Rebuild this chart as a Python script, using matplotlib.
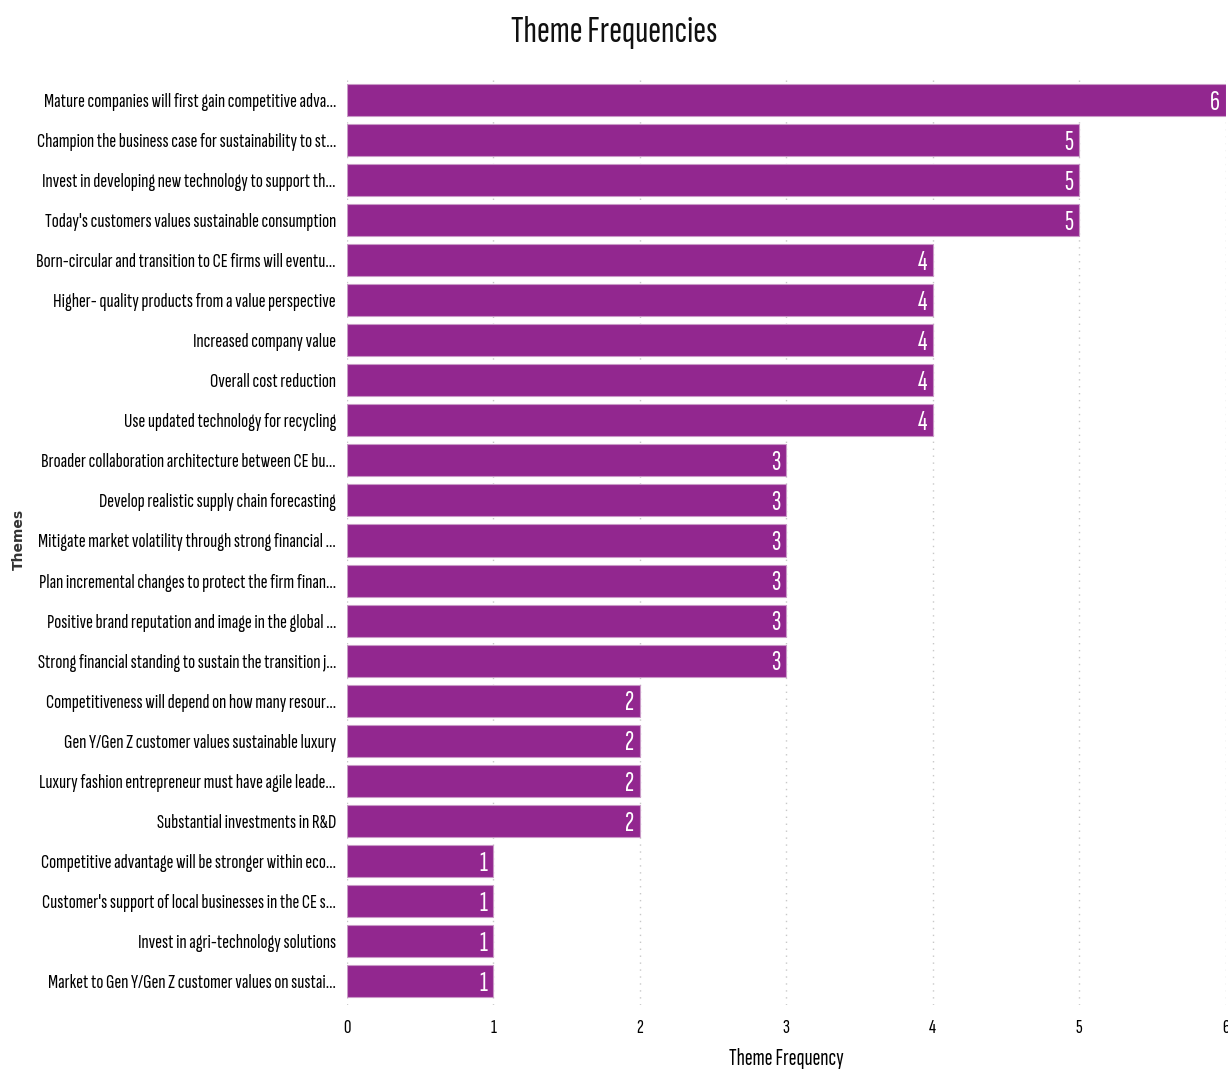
from matplotlib import pyplot as plt
import numpy as np

themes = [
    "Mature companies will first gain competitive adva...",
    "Champion the business case for sustainability to st...",
    "Invest in developing new technology to support th...",
    "Today's customers values sustainable consumption",
    "Born-circular and transition to CE firms will eventu...",
    "Higher- quality products from a value perspective",
    "Increased company value",
    "Overall cost reduction",
    "Use updated technology for recycling",
    "Broader collaboration architecture between CE bu...",
    "Develop realistic supply chain forecasting",
    "Mitigate market volatility through strong financial ...",
    "Plan incremental changes to protect the firm finan...",
    "Positive brand reputation and image in the global ...",
    "Strong financial standing to sustain the transition j...",
    "Competitiveness will depend on how many resour...",
    "Gen Y/Gen Z customer values sustainable luxury",
    "Luxury fashion entrepreneur must have agile leade...",
    "Substantial investments in R&D",
    "Competitive advantage will be stronger within eco...",
    "Customer's support of local businesses in the CE s...",
    "Invest in agri-technology solutions",
    "Market to Gen Y/Gen Z customer values on sustai...",
]
frequencies = [6, 5, 5, 5, 4, 4, 4, 4, 4, 3, 3, 3, 3, 3, 3, 2, 2, 2, 2, 1, 1, 1, 1]
x_ticks = [0, 1, 2, 3, 4, 5, 6]

narrow = ['Sofia Sans Extra Condensed', 'DejaVu Sans']
bar_color = '#92278F'

fig = plt.figure(figsize=(12.28, 10.69), dpi=100)
ax = fig.add_axes([0.2826, 0.0599, 0.7154, 0.869])

y = np.arange(len(themes))
ax.barh(y, frequencies, height=0.8, color=bar_color, edgecolor='#c99ac7', linewidth=0.8, zorder=2)

for yi, v in zip(y, frequencies):
    ax.text(v - 0.04, yi + 0.07, str(v), color='white', ha='right', va='center',
            fontsize=20, family=narrow, zorder=3)

ax.set_xlim(0, 6)
ax.set_ylim(22.6, -0.6)
ax.set_yticks(y)
ax.set_yticklabels(themes, family=narrow, fontsize=15, color='black')
ax.set_xticks(x_ticks)
ax.set_xticklabels([str(t) for t in x_ticks], family=narrow, fontsize=15, color='black')
ax.tick_params(axis='both', length=0)
ax.tick_params(axis='y', pad=8)
ax.tick_params(axis='x', pad=10)

ax.grid(axis='x', linestyle=(0, (1, 4)), color='#c8c8c8', linewidth=1, zorder=0)
for s in ax.spines.values():
    s.set_visible(False)

ax.set_xlabel('Theme Frequency', family=narrow, fontsize=17, labelpad=8)
fig.text(0.015, 0.495, 'Themes', rotation=90, ha='center', va='center',
         fontsize=10, fontweight='bold', color='#333333')
fig.suptitle('Theme Frequencies', family=narrow, fontsize=28, y=0.985, color='#111111')

plt.savefig('out.png', dpi=100)
